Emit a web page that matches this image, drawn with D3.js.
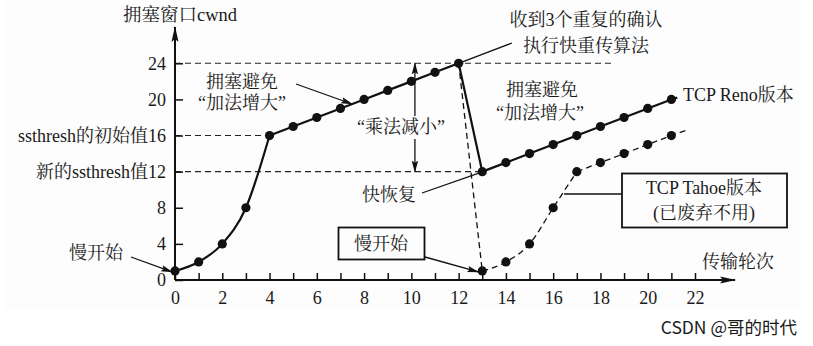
<!DOCTYPE html>
<html>
<head>
<meta charset="utf-8">
<script src="https://cdn.jsdelivr.net/npm/d3@7"></script>
<style>
  html, body { margin: 0; padding: 0; background: #ffffff; }
  svg { display: block; }
  text { font-family: "Liberation Serif", "Noto Serif CJK SC", "Noto Sans CJK SC", serif; fill: #1a1a1a; }
</style>
</head>
<body>
<svg id="chart" width="813" height="346"></svg>
<script>
// TCP congestion window per transmission round
const renoRounds = [0, 1, 2, 3, 4, 5, 6, 7, 8, 9, 10, 11, 12, 13, 14, 15, 16, 17, 18, 19, 20, 21];
const renoCwnd   = [1, 2, 4, 8, 16, 17, 18, 19, 20, 21, 22, 23, 24, 12, 13, 14, 15, 16, 17, 18, 19, 20];
const renoTail   = [21.25, 20.2];

const tahoeRounds = [12, 13, 14, 15, 16, 17, 18, 19, 20, 21];
const tahoeCwnd   = [24, 1, 2, 4, 8, 12, 13, 14, 15, 16];
const tahoeTail   = [21.65, 16.6];

const xTicks = [0, 1, 2, 3, 4, 5, 6, 7, 8, 9, 10, 11, 12, 13, 14, 15, 16, 17, 18, 19, 20, 21, 22];
const yTicks = [0, 4, 8, 12, 16, 20, 24];
const yTickLabels = ["0", "4", "8", "新的ssthresh值12", "ssthresh的初始值16", "20", "24"];

// threshold guides: [value, end round]
const guideLevels = [24, 16, 12];
const guideEnds   = [18.5, 4, 13];

const FS = 18;
const svg = d3.select("#chart");

// faint paper panel
svg.append("rect").attr("x", 4).attr("y", 0).attr("width", 796).attr("height", 309)
  .attr("fill", "#fdfdfd");

const x = d3.scaleLinear().domain([0, 22]).range([175, 695]);
const y = d3.scaleLinear().domain([0, 24]).range([280, 63.3]);

const defs = svg.append("defs");
defs.append("marker").attr("id", "head")
  .attr("viewBox", "0 0 12 8").attr("refX", 11).attr("refY", 4)
  .attr("markerWidth", 12).attr("markerHeight", 8).attr("markerUnits", "userSpaceOnUse")
  .attr("orient", "auto-start-reverse")
  .append("path").attr("d", "M0,0.8 L12,4 L0,7.2 L2,4 Z").attr("fill", "#111");
defs.append("marker").attr("id", "axisHead")
  .attr("viewBox", "0 0 16 8").attr("refX", 15).attr("refY", 4)
  .attr("markerWidth", 16).attr("markerHeight", 8).attr("markerUnits", "userSpaceOnUse")
  .attr("orient", "auto")
  .append("path").attr("d", "M0,0.5 L16,4 L0,7.5 L3,4 Z").attr("fill", "#111");

// dashed threshold guides
svg.append("g").selectAll("line").data(guideLevels).join("line")
  .attr("x1", x(0)).attr("x2", (d, i) => x(guideEnds[i]))
  .attr("y1", d => y(d)).attr("y2", d => y(d))
  .attr("stroke", "#222").attr("stroke-width", 1.1).attr("stroke-dasharray", "6,4");

// axes
const xAxis = d3.axisBottom(x).tickValues(xTicks).tickSizeInner(-7).tickSizeOuter(0).tickPadding(14)
  .tickFormat(d => d % 2 === 0 ? d : "");
const gx = svg.append("g").attr("transform", `translate(0,${y(0)})`).call(xAxis);
gx.select(".domain").remove();
gx.selectAll(".tick line").attr("stroke", "#111").attr("stroke-width", 1.5);
gx.selectAll(".tick text").attr("font-size", FS).attr("dy", "0.55em")
  .style("font-family", "'Liberation Serif', serif").attr("fill", "#1a1a1a");

const yAxis = d3.axisLeft(y).tickValues(yTicks).tickSizeInner(-8).tickSizeOuter(0).tickPadding(9)
  .tickFormat((d, i) => yTickLabels[i]);
const gy = svg.append("g").attr("transform", `translate(${x(0)},0)`).call(yAxis);
gy.select(".domain").remove();
gy.selectAll(".tick line").attr("stroke", "#111").attr("stroke-width", 1.5);
gy.selectAll(".tick text").attr("font-size", FS).attr("fill", "#1a1a1a");

svg.append("line").attr("x1", x(0)).attr("x2", 735).attr("y1", y(0)).attr("y2", y(0))
  .attr("stroke", "#111").attr("stroke-width", 2).attr("marker-end", "url(#axisHead)");
svg.append("line").attr("x1", x(0)).attr("x2", x(0)).attr("y1", y(0)).attr("y2", 27)
  .attr("stroke", "#111").attr("stroke-width", 2).attr("marker-end", "url(#axisHead)");

svg.append("text").attr("x", 180).attr("y", 21).attr("text-anchor", "middle")
  .attr("font-size", FS + 0.5).text("拥塞窗口cwnd");
svg.append("text").attr("x", 738).attr("y", 268).attr("text-anchor", "middle")
  .attr("font-size", FS).text("传输轮次");

// series lines
const renoPts = renoRounds.map((r, i) => [r, renoCwnd[i]]);
const tahoePts = tahoeRounds.map((r, i) => [r, tahoeCwnd[i]]);
const curve = d3.line().x(d => x(d[0])).y(d => y(d[1])).curve(d3.curveMonotoneX);
const straight = d3.line().x(d => x(d[0])).y(d => y(d[1]));

// Reno: slow start curve, then linear growth / halving
svg.append("path").attr("d", curve(renoPts.slice(0, 5)))
  .attr("fill", "none").attr("stroke", "#111").attr("stroke-width", 2.2);
svg.append("path").attr("d", straight(renoPts.slice(4).concat([renoTail])))
  .attr("fill", "none").attr("stroke", "#111").attr("stroke-width", 2.2);

// Tahoe: drop to 1 then slow start and linear growth (dashed)
const tahoeDash = "6,4";
svg.append("path").attr("d", straight(tahoePts.slice(0, 2)))
  .attr("fill", "none").attr("stroke", "#111").attr("stroke-width", 1.3).attr("stroke-dasharray", tahoeDash);
svg.append("path").attr("d", curve(tahoePts.slice(1, 6)))
  .attr("fill", "none").attr("stroke", "#111").attr("stroke-width", 1.3).attr("stroke-dasharray", tahoeDash);
svg.append("path").attr("d", straight(tahoePts.slice(5).concat([tahoeTail])))
  .attr("fill", "none").attr("stroke", "#111").attr("stroke-width", 1.3).attr("stroke-dasharray", tahoeDash);

// markers
svg.append("g").selectAll("circle").data(renoPts).join("circle")
  .attr("cx", d => x(d[0])).attr("cy", d => y(d[1])).attr("r", 4.6).attr("fill", "#111");
svg.append("g").selectAll("circle").data(tahoePts.slice(1)).join("circle")
  .attr("cx", d => x(d[0])).attr("cy", d => y(d[1])).attr("r", 4.6).attr("fill", "#111");

// annotations
function label(tx, ty, str, anchor) {
  return svg.append("text").attr("x", tx).attr("y", ty).attr("text-anchor", anchor || "middle")
    .attr("font-size", FS).text(str);
}
function callout(x1, y1, x2, y2, arrow) {
  const l = svg.append("line").attr("x1", x1).attr("y1", y1).attr("x2", x2).attr("y2", y2)
    .attr("stroke", "#111").attr("stroke-width", 1.3);
  if (arrow) l.attr("marker-end", "url(#head)");
  return l;
}

// slow start (left)
label(96, 259, "慢开始");
callout(131, 257, x(0) - 3, y(1) + 1, true);

// congestion avoidance (left)
label(242, 88, "拥塞避免");
label(242, 109, "“加法增大”");
callout(296, 84, 352, 104, true);

// multiplicative decrease double arrow
const mdX = x(10.15);
svg.append("line").attr("x1", mdX).attr("x2", mdX).attr("y1", y(24)).attr("y2", y(12))
  .attr("stroke", "#111").attr("stroke-width", 1.3)
  .attr("marker-start", "url(#head)").attr("marker-end", "url(#head)");
svg.append("rect").attr("x", 356).attr("y", 116).attr("width", 92).attr("height", 23).attr("fill", "#fdfdfd");
label(401, 133, "“乘法减小”");

// triple duplicate ACK
label(586, 26, "收到3个重复的确认");
label(586, 52, "执行快重传算法");
callout(x(12), y(24), 512, 43, false);

// congestion avoidance (right)
label(542, 96, "拥塞避免");
label(540, 119, "“加法增大”");

label(683, 101, "TCP Reno版本", "start");

// fast recovery
label(389, 201, "快恢复");
callout(422, 193, x(13) - 2, y(12) + 1, false);

// slow start box (Tahoe)
svg.append("rect").attr("x", 338.5).attr("y", 227.5).attr("width", 86).attr("height", 32)
  .attr("fill", "#fdfdfd").attr("stroke", "#111").attr("stroke-width", 1.8);
label(381, 250, "慢开始");
callout(425, 257, x(13) - 4, y(1) + 1, true);

// Tahoe box
callout(564, 194, 622, 194, false);
svg.append("rect").attr("x", 622).attr("y", 173.5).attr("width", 165).attr("height", 54)
  .attr("fill", "#fdfdfd").attr("stroke", "#111").attr("stroke-width", 1.8);
label(704, 194, "TCP Tahoe版本");
label(704, 219, "(已废弃不用)");

// watermark
svg.append("text").attr("x", 797).attr("y", 334).attr("text-anchor", "end")
  .attr("font-size", 17.5).style("font-family", "'Noto Sans CJK SC', 'Noto Sans', sans-serif")
  .attr("fill", "#bdbdbd").text("CSDN @哥的时代");
</script>
</body>
</html>
